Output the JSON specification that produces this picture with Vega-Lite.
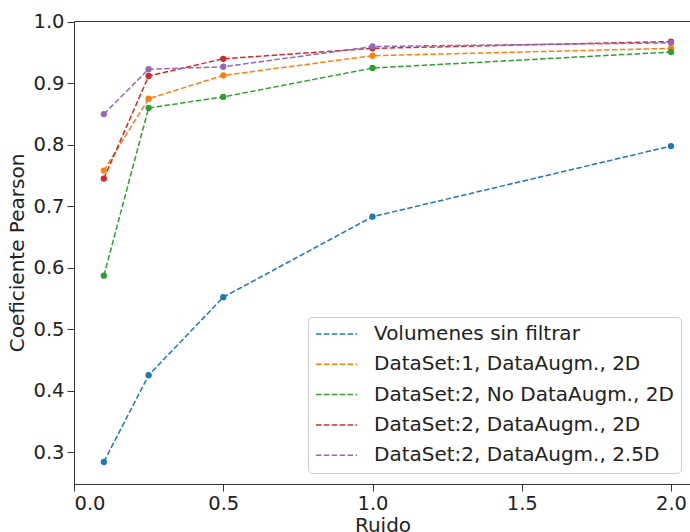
{
  "$schema": "https://vega.github.io/schema/vega-lite/v6.json",
  "autosize": {"type": "none"},
  "padding": {"left": 74, "top": 21, "right": 0, "bottom": 48},
  "width": 617,
  "height": 463,
  "background": "white",
  "config": {
    "font": "DejaVu Sans",
    "view": {"stroke": "#333333", "strokeWidth": 1},
    "axis": {
      "grid": false,
      "domainColor": "#333333",
      "tickColor": "#333333",
      "labelColor": "#222222",
      "titleColor": "#222222",
      "labelFontSize": 19.5,
      "titleFontSize": 20,
      "titleFontWeight": "normal",
      "tickSize": 7,
      "labelPadding": 3,
      "labelFont": "DejaVu Sans",
      "titleFont": "DejaVu Sans",
      "labelOverlap": false
    },
    "legend": {
      "labelFont": "DejaVu Sans",
      "labelFontSize": 20,
      "labelColor": "#222222"
    }
  },
  "data": {
    "values": [
      {"ruido": 0.1, "pearson": 0.284, "serie": "Volumenes sin filtrar"},
      {"ruido": 0.25, "pearson": 0.425, "serie": "Volumenes sin filtrar"},
      {"ruido": 0.5, "pearson": 0.552, "serie": "Volumenes sin filtrar"},
      {"ruido": 1.0, "pearson": 0.683, "serie": "Volumenes sin filtrar"},
      {"ruido": 2.0, "pearson": 0.798, "serie": "Volumenes sin filtrar"},
      {"ruido": 0.1, "pearson": 0.758, "serie": "DataSet:1, DataAugm., 2D"},
      {"ruido": 0.25, "pearson": 0.875, "serie": "DataSet:1, DataAugm., 2D"},
      {"ruido": 0.5, "pearson": 0.913, "serie": "DataSet:1, DataAugm., 2D"},
      {"ruido": 1.0, "pearson": 0.945, "serie": "DataSet:1, DataAugm., 2D"},
      {"ruido": 2.0, "pearson": 0.957, "serie": "DataSet:1, DataAugm., 2D"},
      {"ruido": 0.1, "pearson": 0.587, "serie": "DataSet:2, No DataAugm., 2D"},
      {"ruido": 0.25, "pearson": 0.860, "serie": "DataSet:2, No DataAugm., 2D"},
      {"ruido": 0.5, "pearson": 0.878, "serie": "DataSet:2, No DataAugm., 2D"},
      {"ruido": 1.0, "pearson": 0.925, "serie": "DataSet:2, No DataAugm., 2D"},
      {"ruido": 2.0, "pearson": 0.951, "serie": "DataSet:2, No DataAugm., 2D"},
      {"ruido": 0.1, "pearson": 0.745, "serie": "DataSet:2, DataAugm., 2D"},
      {"ruido": 0.25, "pearson": 0.912, "serie": "DataSet:2, DataAugm., 2D"},
      {"ruido": 0.5, "pearson": 0.940, "serie": "DataSet:2, DataAugm., 2D"},
      {"ruido": 1.0, "pearson": 0.957, "serie": "DataSet:2, DataAugm., 2D"},
      {"ruido": 2.0, "pearson": 0.968, "serie": "DataSet:2, DataAugm., 2D"},
      {"ruido": 0.1, "pearson": 0.850, "serie": "DataSet:2, DataAugm., 2.5D"},
      {"ruido": 0.25, "pearson": 0.923, "serie": "DataSet:2, DataAugm., 2.5D"},
      {"ruido": 0.5, "pearson": 0.927, "serie": "DataSet:2, DataAugm., 2.5D"},
      {"ruido": 1.0, "pearson": 0.960, "serie": "DataSet:2, DataAugm., 2.5D"},
      {"ruido": 2.0, "pearson": 0.966, "serie": "DataSet:2, DataAugm., 2.5D"}
    ]
  },
  "encoding": {
    "x": {
      "field": "ruido", "type": "quantitative", "title": "Ruido",
      "scale": {"domain": [0, 2.067], "nice": false, "zero": false},
      "axis": {"values": [0, 0.5, 1, 1.5, 2], "format": ".1f", "titlePadding": 3}
    },
    "y": {
      "field": "pearson", "type": "quantitative", "title": "Coeficiente Pearson",
      "scale": {"domain": [0.248, 1.0015], "nice": false, "zero": false},
      "axis": {"values": [0.3, 0.4, 0.5, 0.6, 0.7, 0.8, 0.9, 1.0], "format": ".1f", "titlePadding": 5}
    },
    "color": {
      "field": "serie", "type": "nominal",
      "scale": {
        "domain": ["Volumenes sin filtrar", "DataSet:1, DataAugm., 2D", "DataSet:2, No DataAugm., 2D", "DataSet:2, DataAugm., 2D", "DataSet:2, DataAugm., 2.5D"],
        "range": ["#1f77b4", "#ff7f0e", "#2ca02c", "#d62728", "#9467bd"]
      }
    }
  },
  "layer": [
    {
      "mark": {"type": "line", "strokeDash": [5.5, 2.4], "strokeWidth": 1.5},
      "encoding": {
        "color": {
          "field": "serie", "type": "nominal",
          "legend": {
            "title": null,
            "orient": "none",
            "legendX": 234,
            "legendY": 296,
            "symbolType": "stroke",
            "symbolSize": 1681,
            "symbolStrokeWidth": 1.5,
            "symbolDash": [5.5, 2.4],
            "symbolOffset": 0,
            "labelOffset": 16,
            "clipHeight": 20,
            "rowPadding": 10.3,
            "padding": 7,
            "fillColor": "white",
            "strokeColor": "#cccccc",
            "cornerRadius": 4,
            "labelLimit": 400
          }
        }
      }
    },
    {
      "mark": {"type": "point", "filled": true, "size": 40, "opacity": 1},
      "encoding": {
        "color": {"field": "serie", "type": "nominal", "legend": null}
      }
    }
  ]
}
